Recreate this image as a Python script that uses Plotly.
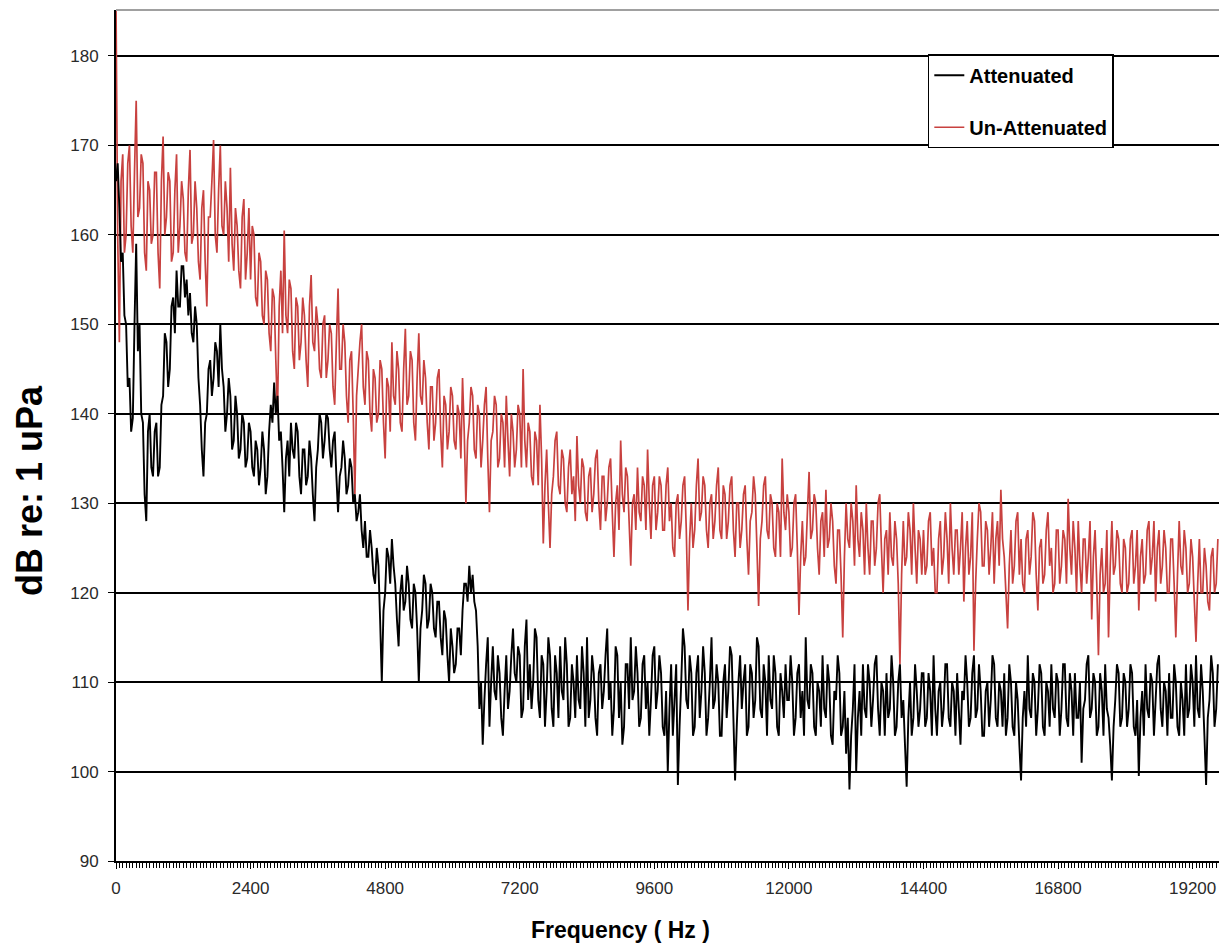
import plotly.graph_objects as go

# Spectrum bins (Hz between successive values)
BIN_HZ = 30

attenuated = [
    166, 168, 163, 157, 158, 151, 150, 143, 144, 138, 139.5, 150, 159, 147, 150, 140, 139, 131, 128, 138,
    140, 134, 133, 138, 139, 133, 134, 141, 142, 149, 148, 143, 145, 152, 153, 149, 156, 152, 152, 156.5,
    156.5, 153, 155, 151, 153.5, 149, 148, 152, 150, 144, 141, 136, 133, 139, 140, 145, 146, 142, 144, 148,
    147, 143, 150, 145, 143, 138, 140, 144, 142, 136, 137, 142, 140, 135, 136, 140, 139, 134, 135, 139,
    138, 134, 133, 137, 136, 132, 134, 138, 136, 131, 133, 138, 141, 139, 143.5, 140, 142, 137, 138, 134,
    129, 135, 137, 133, 139, 136, 135, 139, 138, 133, 131, 136, 136, 132, 133, 137, 135, 131, 128, 134,
    136, 140, 139, 135, 137, 140, 139.5, 136, 134, 137, 138, 133, 129, 133, 134, 137, 135, 131, 132, 135,
    134, 130, 131, 128, 129, 131, 127, 125, 128, 124, 124, 127, 125, 122, 121, 125, 123, 117, 110, 118,
    120, 125, 124, 121, 126, 123, 121, 117, 114, 120, 122, 118, 119, 123, 121, 117, 116, 121, 120, 116,
    110, 116, 118, 122, 121, 116, 117, 121, 120, 116, 115, 119, 119, 115, 113, 118, 117, 113, 110, 116,
    114, 111, 112, 116, 116, 113, 118, 121, 121, 119, 123, 120, 122, 119, 118, 114, 107, 110, 103, 108,
    112, 115, 105, 110, 114, 109, 108, 113, 111, 106, 104, 109, 113, 107, 109, 113, 116, 111, 110, 114,
    113, 106, 107, 114, 117, 108, 112, 107, 110, 116, 115, 108, 106, 113, 112, 105, 109, 115, 113, 107,
    105, 113, 111, 106, 114, 109, 108, 115, 112, 105, 106, 112, 110, 106, 113, 108, 107, 114, 111, 105,
    115, 106, 108, 113, 111, 106, 104, 111, 112, 107, 109, 113, 116, 108, 110, 104, 107, 114, 113, 106,
    110, 103, 105, 112, 112, 107, 115, 108, 109, 114, 111, 105, 106, 112, 113, 107, 110, 104, 108, 113,
    114, 107, 109, 113, 111, 105, 104, 109, 100, 107, 112, 104, 108, 112, 98.5, 105, 110, 116, 114, 108,
    107, 113, 111, 104, 105, 111, 113, 106, 109, 114, 111, 104, 106, 110, 115, 107, 108, 112, 110, 104,
    104, 110, 112, 106, 109, 114, 113, 106, 99, 105, 110, 113, 107, 110, 112, 104, 105, 112, 111, 106,
    108, 115, 114, 107, 106, 112, 110, 104, 113, 108, 107, 113, 111, 105, 104, 111, 109, 106, 112, 108,
    108, 113, 110, 104, 106, 111, 112, 106, 109, 104, 115, 108, 107, 112, 111, 105, 104, 110, 109, 105,
    113, 107, 106, 112, 110, 104, 103, 109, 108, 113, 111, 104, 105, 109, 102, 106, 98, 104, 107, 112,
    100, 106, 109, 104, 112, 107, 106, 112, 110, 105, 108, 112, 113, 107, 104, 110, 109, 104, 111, 106,
    107, 113, 110, 104, 105, 110, 112, 106, 108, 103, 98.3, 106, 110, 104, 106, 112, 109, 105, 107, 111,
    111, 105, 106, 111, 109, 104, 113, 107, 104, 109, 110, 105, 107, 112, 112, 106, 105, 110, 109, 104,
    111, 107, 103, 109, 108, 113, 110, 105, 106, 111, 113, 106, 107, 112, 109, 104, 104, 109, 110, 105,
    108, 113, 112, 106, 105, 110, 109, 105, 111, 104, 106, 112, 110, 105, 104, 110, 108, 103, 99, 106,
    109, 105, 113, 107, 106, 111, 110, 104, 107, 112, 111, 105, 104, 110, 109, 105, 112, 107, 106, 111,
    110, 104, 107, 112, 112, 106, 105, 111, 109, 104, 111, 106, 106, 110, 101, 107, 108, 112, 113, 106,
    107, 111, 110, 104, 105, 111, 109, 104, 112, 107, 106, 103, 99, 105, 108, 112, 111, 105, 106, 111,
    110, 105, 107, 112, 111, 105, 104, 108, 99.5, 106, 109, 104, 112, 107, 106, 111, 110, 104, 108, 112,
    113, 107, 105, 110, 109, 104, 111, 106, 106, 112, 110, 105, 104, 110, 108, 104, 112, 106, 107, 112,
    110, 105, 113, 107, 106, 112, 109, 104, 98.5, 106, 108, 113, 111, 105, 107, 112,
]

un_attenuated = [
    186, 160, 148, 166, 169, 158, 160, 168, 170, 161, 158, 167, 175, 162, 163, 169, 168, 158, 156, 166,
    165, 159, 160, 167, 167, 158, 154, 166, 171, 160, 162, 167, 166, 157, 158, 165, 169, 158, 161, 166,
    164, 158, 157, 165, 169.5, 159, 160, 166, 163, 157, 155, 163, 165, 157, 152, 162, 162, 166, 170.6, 160,
    158, 165, 170, 161, 160, 166, 163, 157, 167.5, 159, 156, 163, 161, 156, 154, 162, 164, 155, 158, 163,
    155, 161, 160, 153, 152, 158, 157, 151, 150, 156, 155, 149, 147, 154, 153, 146, 140, 152, 156, 149,
    160.5, 151, 149, 155, 154, 147, 145, 153, 152, 146, 148, 153, 151, 146, 143, 152, 155.5, 148, 147, 152,
    150, 145, 144, 150, 151, 144, 146, 150, 149, 143, 141, 148, 154, 145, 145, 150, 148, 142, 139, 146,
    147, 140, 131, 142, 145, 148, 150, 143, 141, 147, 146, 140, 138, 145, 144, 139, 140, 146, 145, 139,
    135, 144, 143, 138, 148, 142, 141, 147, 145, 139, 138, 145, 149.5, 141, 142, 147, 146, 139, 137, 144,
    149, 142, 141, 146, 144, 139, 136, 143, 143, 137, 139, 144, 145, 138, 134, 142, 141, 136, 138, 143,
    142, 137, 136, 141, 140, 135, 144, 138, 130, 137, 139, 143, 142, 136, 135, 141, 140, 134, 137, 141,
    143, 135, 129, 137, 138, 142, 141, 134, 135, 140, 139, 134, 142, 137, 133, 140, 138, 134, 136, 141,
    140, 134, 145, 137, 134, 139, 138, 133, 132, 138, 137, 132, 141, 135, 125.5, 132, 136, 130, 125, 131,
    133, 137, 138, 132, 131, 136, 135, 130, 129, 134, 136, 131, 133, 128, 137.5, 132, 130, 135, 134, 129,
    128, 133, 134, 129, 131, 135, 136, 130, 127, 133, 133, 128, 130, 134, 135, 129, 124, 130, 132, 127,
    137, 131, 129, 134, 133, 128, 123, 130, 131, 127, 134, 129, 128, 133, 132, 127, 136, 130, 126, 132,
    133, 127, 129, 133, 132, 127, 127, 132, 134, 128, 130, 125, 124, 130, 131, 126, 128, 132, 133, 127,
    118, 126, 130, 125, 127, 132, 135, 128, 129, 133, 132, 127, 125, 130, 131, 126, 128, 132, 134, 127,
    126, 132, 131, 126, 128, 132, 133, 127, 124, 130, 130, 125, 127, 131, 132, 126, 122, 128, 129, 133,
    131, 125, 118.5, 126, 128, 132, 133, 127, 126, 131, 130, 125, 124, 130, 129, 124, 135, 129, 127, 131,
    129, 124, 125, 130, 131, 125, 117.5, 124, 128, 123, 124, 129, 133.5, 126, 127, 131, 130, 125, 122, 128,
    129, 124, 131.5, 125, 126, 130, 128, 123, 121, 127, 127, 122, 115, 124, 130, 126, 125, 130, 128, 123,
    132, 126, 124, 129, 127, 122, 130, 125, 122, 128, 128, 123, 125, 130, 131, 125, 120, 126, 127, 122,
    129, 124, 123, 128, 126, 121, 112, 122, 128, 123, 124, 129, 127, 122, 130, 125, 121, 127, 126, 122,
    127, 122, 123, 128, 129, 123, 125, 120, 120, 126, 128, 122, 124, 129, 126, 121, 130, 125, 122, 127,
    127, 122, 125, 129, 119, 125, 128, 122, 124, 129, 113.5, 121, 126, 130, 129, 123, 123, 128, 127, 122,
    125, 129, 121, 126, 128, 123, 131.5, 126, 124, 120, 116, 123, 127, 121, 123, 128, 129, 122, 126, 121,
    120, 126, 127, 122, 124, 129, 128, 122, 118, 125, 126, 121, 122, 127, 129, 123, 125, 120, 121, 127,
    127, 121, 123, 127, 126, 121, 130.5, 125, 122, 128, 125, 120, 128, 123, 120, 126, 126, 121, 124, 128,
    117, 124, 127, 121, 113, 122, 125, 120, 121, 127, 115, 123, 128, 122, 123, 127, 126, 121, 120, 126,
    125, 120, 121, 126, 127, 121, 123, 127, 118, 124, 126, 121, 122, 127, 128, 122, 124, 128, 119, 125,
    127, 121, 123, 127, 125, 120, 120, 126, 126, 121, 115, 122, 128, 123, 122, 127, 125, 120, 121, 126,
    124, 119, 114.5, 121, 126, 120, 120, 125, 123, 119, 118, 124, 125, 120, 121, 126,
]

freq_att = [i * BIN_HZ for i in range(len(attenuated))]
freq_unatt = [i * BIN_HZ for i in range(len(un_attenuated))]

x_tick_vals = [0, 2400, 4800, 7200, 9600, 12000, 14400, 16800, 19200]
y_tick_vals = [90, 100, 110, 120, 130, 140, 150, 160, 170, 180]

RED = "#c8413f"
BOLD_FONT = "Arial, Liberation Sans, sans-serif"
TICK_FONT = dict(family="Arial, Liberation Sans, sans-serif", size=17, color="#2a2a2a")

fig = go.Figure()
fig.add_trace(go.Scatter(
    x=freq_unatt, y=un_attenuated, mode="lines", name="Un-Attenuated",
    line=dict(color=RED, width=1.7, simplify=False), legendgroup="b", legendrank=2,
))
fig.add_trace(go.Scatter(
    x=freq_att, y=attenuated, mode="lines", name="Attenuated",
    line=dict(color="black", width=1.9, simplify=False), legendgroup="a", legendrank=1,
))

fig.update_layout(
    width=1219, height=944,
    margin=dict(l=116, r=0, t=10, b=83),
    paper_bgcolor="white", plot_bgcolor="white",
    showlegend=True,
    legend=dict(
        x=0.736, y=0.948, xanchor="left", yanchor="top",
        bgcolor="white", bordercolor="black", borderwidth=1.5,
        font=dict(family=BOLD_FONT, size=20, color="black", weight="bold"),
        traceorder="grouped", tracegroupgap=23, itemwidth=30,
    ),
    xaxis=dict(
        range=[0, 19670], tickvals=x_tick_vals, ticktext=[str(v) for v in x_tick_vals],
        showgrid=False, zeroline=False,
        showline=True, linecolor="black", linewidth=2,
        ticks="outside", ticklen=6, tickwidth=1, tickcolor="black",
        minor=dict(dtick=60, ticks="outside", ticklen=5, tickwidth=1, tickcolor="black", showgrid=False),
        tickfont=TICK_FONT, ticklabelstandoff=5,
    ),
    yaxis=dict(
        range=[90, 185.14], tickvals=y_tick_vals,
        showgrid=True, gridcolor="black", gridwidth=1.5, zeroline=False,
        showline=True, linecolor="black", linewidth=2,
        ticks="outside", ticklen=6, tickwidth=1, tickcolor="black",
        tickfont=TICK_FONT, ticklabelstandoff=6,
    ),
    shapes=[dict(type="line", xref="paper", yref="paper", x0=0, x1=1, y0=1, y1=1,
                 line=dict(color="#a0a0a0", width=2))],
    annotations=[
        dict(text="dB re: 1 uPa", textangle=-90, xref="paper", yref="paper",
             x=-0.078, y=0.436, xanchor="center", yanchor="middle", showarrow=False,
             font=dict(family=BOLD_FONT, size=36, color="black", weight="bold")),
        dict(text="Frequency ( Hz )", xref="paper", yref="paper",
             x=0.457, y=-0.081, xanchor="center", yanchor="middle", showarrow=False,
             font=dict(family=BOLD_FONT, size=23, color="black", weight="bold")),
    ],
)

fig.write_html("out.html", config={"displayModeBar": False})
